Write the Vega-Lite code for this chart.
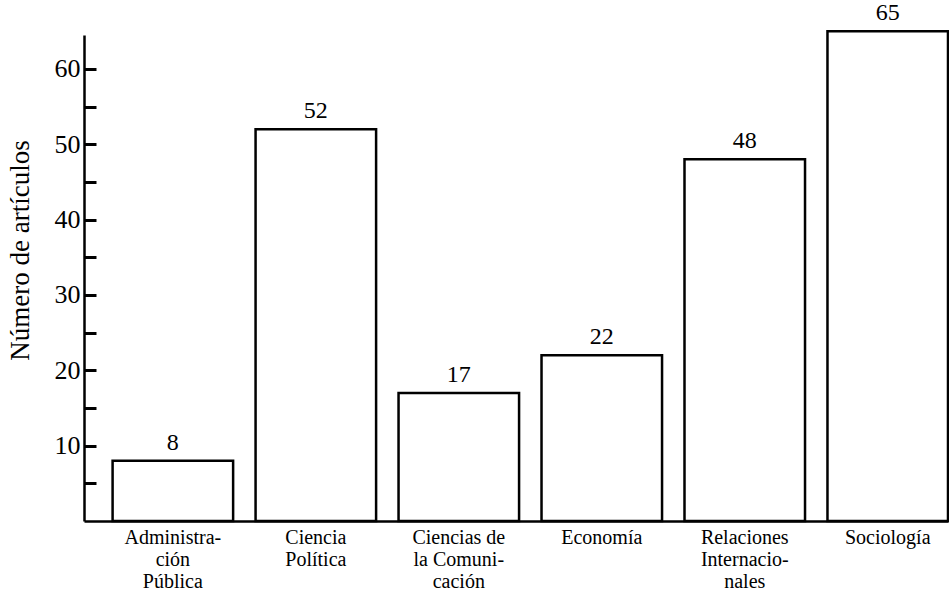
{
  "$schema": "https://vega.github.io/schema/vega-lite/v6.json",
  "width": 864,
  "height": 486,
  "autosize": {"type": "none"},
  "padding": {"left": 84, "top": 35, "right": 1, "bottom": 70},
  "background": "white",
  "config": {"view": {"stroke": null}},
  "data": {
    "values": [
      {"campo": "Administra-|ción|Pública", "articulos": 8},
      {"campo": "Ciencia|Política", "articulos": 52},
      {"campo": "Ciencias de|la Comuni-|cación", "articulos": 17},
      {"campo": "Economía", "articulos": 22},
      {"campo": "Relaciones|Internacio-|nales", "articulos": 48},
      {"campo": "Sociología", "articulos": 65}
    ]
  },
  "encoding": {
    "x": {
      "field": "campo",
      "type": "nominal",
      "sort": null,
      "scale": {"paddingInner": 0.157, "paddingOuter": 0.1, "align": 1},
      "axis": {
        "title": null,
        "labelAngle": 0,
        "labelExpr": "split(datum.label, '|')",
        "ticks": false,
        "domainColor": "black",
        "domainWidth": 2.5,
        "labelFont": "Liberation Serif",
        "labelFontSize": 20,
        "labelLineHeight": 22,
        "labelColor": "black",
        "labelPadding": 6,
        "labelBaseline": "top",
        "labelLimit": 0
      }
    },
    "y": {
      "field": "articulos",
      "type": "quantitative",
      "scale": {"domain": [0, 64.5], "nice": false},
      "axis": {
        "values": [5, 10, 15, 20, 25, 30, 35, 40, 45, 50, 55, 60],
        "labelExpr": "datum.value % 10 == 0 ? datum.label : ''",
        "grid": false,
        "tickSize": -12,
        "tickWidth": 3,
        "tickColor": "black",
        "domainColor": "black",
        "domainWidth": 2.5,
        "labelFont": "Liberation Serif",
        "labelFontSize": 26,
        "labelColor": "black",
        "labelPadding": 16,
        "title": "Número de artículos",
        "titleFont": "Liberation Serif",
        "titleFontSize": 27,
        "titleFontWeight": "normal",
        "titleColor": "black",
        "titleX": -64,
        "titleY": 215,
        "titleAngle": -90,
        "titleAlign": "center",
        "titleBaseline": "middle"
      }
    }
  },
  "layer": [
    {"mark": {"type": "bar", "fill": "white", "stroke": "black", "strokeWidth": 2.5}},
    {
      "mark": {"type": "text", "dy": -18, "font": "Liberation Serif", "fontSize": 24, "color": "black"},
      "encoding": {"text": {"field": "articulos", "type": "quantitative"}}
    }
  ]
}
